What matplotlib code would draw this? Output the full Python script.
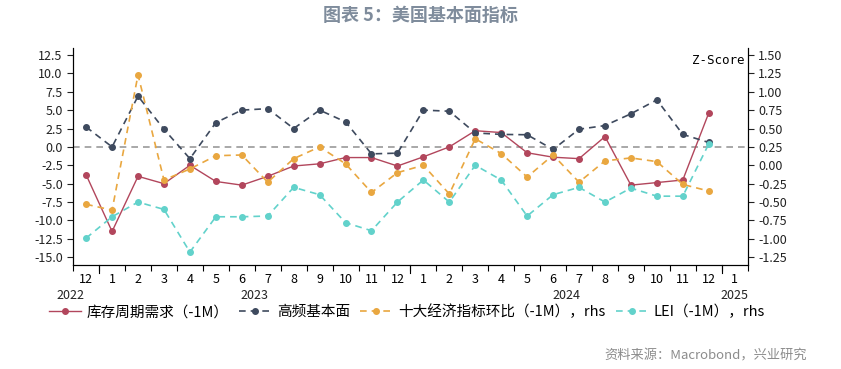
import matplotlib
matplotlib.use("Agg")
import matplotlib.pyplot as plt
import numpy as np

plt.rcParams['font.family'] = ['Noto Sans CJK SC', 'DejaVu Sans']

months = ["12", "1", "2", "3", "4", "5", "6", "7", "8", "9", "10", "11", "12",
          "1", "2", "3", "4", "5", "6", "7", "8", "9", "10", "11", "12", "1"]
years = ["2022", "2023", "2024", "2025"]
year_pos = [-0.6, 6.5, 18.5, 25]

# 库存周期需求（-1M），左轴
inventory = [-3.8, -11.5, -4.0, -5.0, -2.5, -4.7, -5.2, -4.0, -2.6, -2.3, -1.45, -1.45,
             -2.6, -1.35, 0.0, 2.2, 1.95, -0.8, -1.4, -1.6, 1.4, -5.2, -4.85, -4.5, 4.6]
# 高频基本面，左轴
high_freq = [2.7, 0.0, 6.9, 2.4, -1.6, 3.3, 5.0, 5.2, 2.5, 5.0, 3.4, -0.95,
             -0.85, 5.0, 4.85, 1.9, 1.7, 1.65, -0.35, 2.4, 2.9, 4.5, 6.4, 1.7, 0.6]
# 十大经济指标环比（-1M），右轴
top10 = [-0.53, -0.61, 1.23, -0.20, -0.05, 0.13, 0.14, -0.23, 0.09, 0.25, 0.02, -0.37,
         -0.10, 0.0, -0.39, 0.36, 0.16, -0.16, 0.14, -0.23, 0.06, 0.10, 0.05, -0.26, -0.35]
# LEI（-1M），右轴
lei = [-0.99, -0.70, -0.50, -0.60, -1.18, -0.70, -0.70, -0.69, -0.30, -0.40, -0.78, -0.89,
       -0.50, -0.20, -0.50, 0.0, -0.20, -0.69, -0.40, -0.30, -0.50, -0.31, -0.42, -0.42, 0.29]

c_red = "#B2465C"
c_dark = "#3E4A5E"
c_orange = "#E9A740"
c_teal = "#62D2CB"

fig = plt.figure(figsize=(8.41, 3.69), dpi=100)
ax = fig.add_axes([0.087, 0.282, 0.802, 0.588])
ax2 = ax.twinx()

x = np.arange(len(inventory))
l1, = ax.plot(x, inventory, color=c_red, lw=1.0, marker="o", ms=4,
              label="库存周期需求（-1M）")
l2, = ax.plot(x, high_freq, color=c_dark, lw=1.2, ls=(0, (4, 3)), marker="o", ms=4,
              label="高频基本面")
l3, = ax2.plot(x, top10, color=c_orange, lw=1.2, ls=(0, (4, 3)), marker="o", ms=4,
               label="十大经济指标环比（-1M），rhs")
l4, = ax2.plot(x, lei, color=c_teal, lw=1.2, ls=(0, (4, 3)), marker="o", ms=4,
               label="LEI（-1M），rhs")
ax.axhline(0, color="#9A9A9A", lw=1.2, ls=(0, (4, 3)), zorder=0)

ax.set_ylim(-16.05, 13.45)
ax2.set_ylim(-1.355, 1.595)
ax.set_yticks(np.arange(-15, 12.6, 2.5))
ax.set_yticklabels([f"{v:.1f}" for v in np.arange(-15, 12.6, 2.5)])
ax2.set_yticks(np.arange(-1.25, 1.51, 0.25))
ax2.set_yticklabels([f"{v:.2f}" for v in np.arange(-1.25, 1.51, 0.25)])

ax.set_xlim(-0.5, 25.5)
ax.set_xticks(np.arange(-0.5, 25.6, 1))
ax.set_xticklabels([])
ax.set_xticks(np.arange(len(months)), minor=True)
ax.set_xticklabels(months, minor=True)
ax.tick_params(axis="x", which="minor", length=0, labelsize=9, pad=6)
ax.tick_params(axis="x", which="major", length=4, width=0.8)
for yp, yl in zip(year_pos, years):
    ax.text(yp, -0.11, yl, transform=ax.get_xaxis_transform(), ha="center",
            va="top", fontsize=9, color="#222222")
for b in [0.5, 12.5, 24.5]:
    ax.plot([b, b], [0, -0.035], transform=ax.get_xaxis_transform(),
            color="black", lw=0.8, clip_on=False)

for a in (ax, ax2):
    a.spines["top"].set_visible(False)
    a.tick_params(axis="y", labelsize=9, length=4, width=0.8, colors="#222222")
ax.text(0.995, 0.97, "Z-Score", transform=ax.transAxes, ha="right", va="top",
        fontsize=9, family=["DejaVu Sans Mono", "DejaVu Sans"])

fig.legend(handles=[l1, l2, l3, l4], loc="center left", bbox_to_anchor=(0.058, 0.155),
           ncol=4, frameon=False, fontsize=10.5, handlelength=2.2,
           handletextpad=0.4, columnspacing=0.7, borderaxespad=0, borderpad=0)

fig.text(0.5, 0.958, "图表 5：美国基本面指标", ha="center", va="center",
         fontsize=13, fontweight="bold", color="#7F8C9C")
fig.text(0.96, 0.035, "资料来源：Macrobond，兴业研究", ha="right", va="center",
         fontsize=9.5, color="#8C8C8C")

fig.savefig("out.png", dpi=100)
